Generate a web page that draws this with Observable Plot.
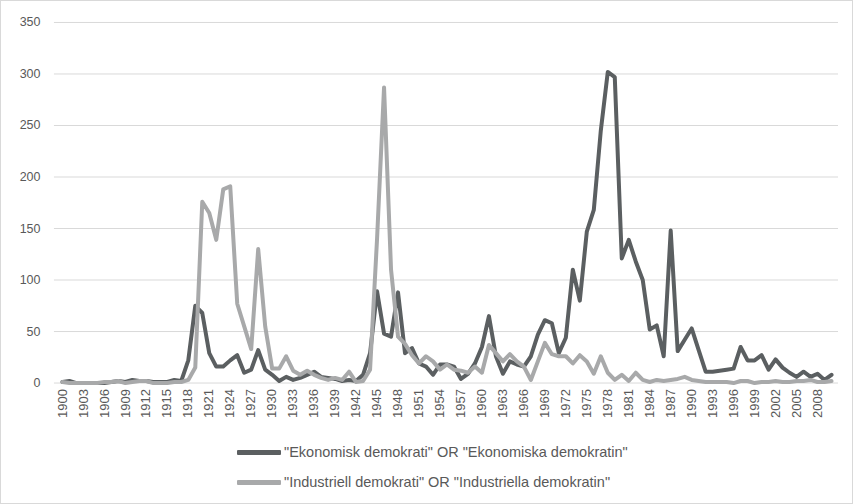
<!DOCTYPE html>
<html>
<head>
<meta charset="utf-8">
<script src="https://cdn.jsdelivr.net/npm/d3@7"></script>
<script src="https://cdn.jsdelivr.net/npm/@observablehq/plot@0.6"></script>
<style>
  html, body { margin: 0; padding: 0; background: #fff; }
  #frame { width: 853px; height: 504px; box-sizing: border-box; border: 1px solid #d9d9d9; position: relative; overflow: hidden; font-family: "Liberation Sans", Arial, sans-serif; }
  #chart { position: absolute; left: -1px; top: -1px; }
  #legend { position: absolute; left: 236px; top: 436px; color: #595959; font-size: 14.5px; }
  .row { display: flex; align-items: center; height: 30px; }
  .sw { width: 44px; height: 5px; margin-right: 3px; border-radius: 1px; }
</style>
</head>
<body>
<div id="frame">
  <div id="chart"></div>
  <div id="legend"></div>
</div>
<script>
const years = d3.range(1900, 2011);
const tickYears = d3.range(1900, 2011, 3);
const yTicks = [0, 50, 100, 150, 200, 250, 300, 350];
const seriesNames = ['"Ekonomisk demokrati" OR "Ekonomiska demokratin"', '"Industriell demokrati" OR "Industriella demokratin"'];
const seriesColors = ["#5b5f61", "#a8a9aa"];

const ekonomisk = [
  1, 2, 0, 0, 0, 0, 0, 1, 2, 1,
  3, 2, 2, 1, 1, 1, 3, 2, 22, 75,
  68, 29, 16, 16, 22, 27, 10, 13, 32, 13,
  8, 2, 6, 3, 5, 8, 11, 6, 5, 4,
  2, 3, 2, 8, 29, 89, 48, 45, 88, 29,
  34, 19, 16, 8, 18, 18, 16, 4, 9, 19,
  35, 65, 26, 9, 21, 18, 16, 26, 47, 61,
  58, 29, 44, 110, 80, 147, 168, 245, 302, 297,
  121, 139, 118, 100, 52, 56, 26, 148, 31, 42,
  53, 32, 11, 11, 12, 13, 14, 35, 22, 22,
  27, 13, 23, 15, 10, 6, 11, 6, 9, 3,
  8
];
const industriell = [
  1, 0, 0, 0, 0, 0, 1, 1, 2, 0,
  1, 2, 2, 0, 0, 0, 1, 1, 3, 15,
  176, 165, 139, 188, 191, 77, 55, 33, 130, 55,
  14, 14, 26, 12, 8, 12, 8, 5, 3, 5,
  3, 11, 1, 2, 13, 140, 287, 110, 45, 38,
  27, 19, 26, 21, 13, 18, 13, 12, 10, 16,
  10, 37, 29, 21, 28, 21, 16, 3, 21, 39,
  28, 26, 26, 19, 27, 21, 9, 26, 10, 3,
  8, 2, 10, 3, 1, 3, 2, 3, 4, 6,
  3, 2, 1, 1, 1, 1, 0, 2, 2, 0,
  1, 1, 2, 1, 1, 2, 2, 3, 1, 1,
  2
];

const rows = [];
[ekonomisk, industriell].forEach((vals, s) => {
  vals.forEach((v, i) => rows.push({year: years[i], value: v, series: seriesNames[s]}));
});

const chart = Plot.plot({
  width: 853,
  height: 432,
  marginLeft: 54,
  marginRight: 14,
  marginTop: 22,
  marginBottom: 49,
  style: { fontFamily: '"Liberation Sans", Arial, sans-serif', fontSize: "12px", color: "#595959", background: "transparent" },
  x: { type: "point", domain: years, padding: 0.5, label: null },
  y: { domain: [0, 350], label: null },
  color: { domain: seriesNames, range: seriesColors },
  marks: [
    Plot.gridY(yTicks, { stroke: "#d9d9d9", strokeOpacity: 1, strokeWidth: 1 }),
    Plot.axisY(yTicks, { tickSize: 0, tickPadding: 14, fill: "#595959", fontSize: 12.5, label: null }),
    Plot.axisX(tickYears, { tickSize: 0, tickPadding: 6, tickRotate: -90, tickFormat: d => String(d), fill: "#595959", fontSize: 13, label: null }),
    Plot.lineY(rows, { x: "year", y: "value", z: "series", stroke: "series", strokeWidth: 4, strokeLinejoin: "round", strokeLinecap: "round" })
  ]
});
document.getElementById("chart").appendChild(chart);

const legend = document.getElementById("legend");
seriesNames.forEach((name, i) => {
  const row = document.createElement("div");
  row.className = "row";
  const sw = document.createElement("div");
  sw.className = "sw";
  sw.style.background = seriesColors[i];
  const t = document.createElement("span");
  t.textContent = name;
  row.appendChild(sw);
  row.appendChild(t);
  legend.appendChild(row);
});
</script>
</body>
</html>
